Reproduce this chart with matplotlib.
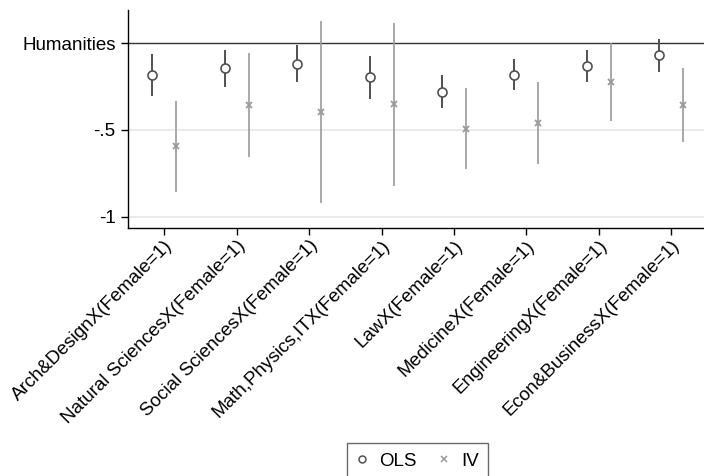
import numpy as np
import matplotlib.pyplot as plt
from matplotlib.lines import Line2D

plt.rcParams['font.family'] = ['Liberation Sans', 'DejaVu Sans']

# Interaction coefficients relative to Humanities (reference = 0)
fields = ['Arch&Design', 'Natural Sciences', 'Social Sciences', 'Math,Physics,IT',
          'Law', 'Medicine', 'Engineering', 'Econ&Business']
labels = [f + 'X(Female=1)' for f in fields]

ols_b = [-0.181, -0.144, -0.117, -0.196, -0.279, -0.181, -0.131, -0.069]
ols_lo = [-0.302, -0.250, -0.225, -0.321, -0.375, -0.269, -0.225, -0.164]
ols_hi = [-0.062, -0.040, -0.012, -0.075, -0.181, -0.092, -0.039, 0.023]

iv_b = [-0.593, -0.358, -0.396, -0.352, -0.493, -0.460, -0.221, -0.356]
iv_lo = [-0.856, -0.654, -0.920, -0.822, -0.727, -0.695, -0.446, -0.571]
iv_hi = [-0.333, -0.058, 0.129, 0.117, -0.256, -0.225, 0.004, -0.141]

yticks = [0, -0.5, -1]
yticklabels = ['Humanities', '-.5', '-1']

c_ols = '#505050'
c_iv = '#9a9a9a'
off = 0.166

fig = plt.figure(figsize=(7.04, 4.76), dpi=100)
ax = fig.add_axes([128/704, 1 - 228/476, (707.5 - 128)/704, 218/476])

x = np.arange(1, len(fields) + 1)

for v in [-0.5, -1]:
    ax.axhline(v, color='#e6e6e6', lw=1.2, zorder=0)
ax.axhline(0, color='#333333', lw=1.0, zorder=1)

ax.vlines(x - off, ols_lo, ols_hi, color=c_ols, lw=1.4, zorder=2)
ax.plot(x - off, ols_b, 'o', ms=6.5, mfc='white', mec=c_ols, mew=1.2, ls='none', zorder=3)

ax.vlines(x + off, iv_lo, iv_hi, color=c_iv, lw=1.2, zorder=2)
ax.plot(x + off, iv_b, 'x', ms=4.3, color=c_iv, mew=1.3, ls='none', zorder=3)

ax.set_xlim(0.5, 8.5)
ax.set_ylim(-1.066, 0.192)
ax.set_yticks(yticks)
ax.set_yticklabels(yticklabels, fontsize=13.5)
ax.set_xticks(x)
ax.set_xticklabels(labels, rotation=45, ha='right', rotation_mode='anchor', fontsize=13.6)
ax.tick_params(length=5, width=1, color='black', pad=4)
ax.tick_params(axis='x', pad=1.5)

for s in ['top', 'right']:
    ax.spines[s].set_visible(False)
for s in ['left', 'bottom']:
    ax.spines[s].set_linewidth(1.0)

handles = [
    Line2D([], [], marker='o', ls='none', ms=5, mfc='white', mec=c_ols, mew=1.1),
    Line2D([], [], marker='x', ls='none', ms=3.8, color=c_iv, mew=1.1),
]
leg = fig.legend(handles, ['OLS', 'IV'], loc='upper center', ncol=2,
                 bbox_to_anchor=(417.5/704, 1 - 443/476), fontsize=13.5,
                 frameon=True, fancybox=False, handlelength=0.6, handletextpad=0.6,
                 columnspacing=1.2, borderpad=0.5, borderaxespad=0)
leg.get_frame().set_edgecolor('#444444')
leg.get_frame().set_linewidth(1.0)

fig.savefig('out.png', dpi=100)
